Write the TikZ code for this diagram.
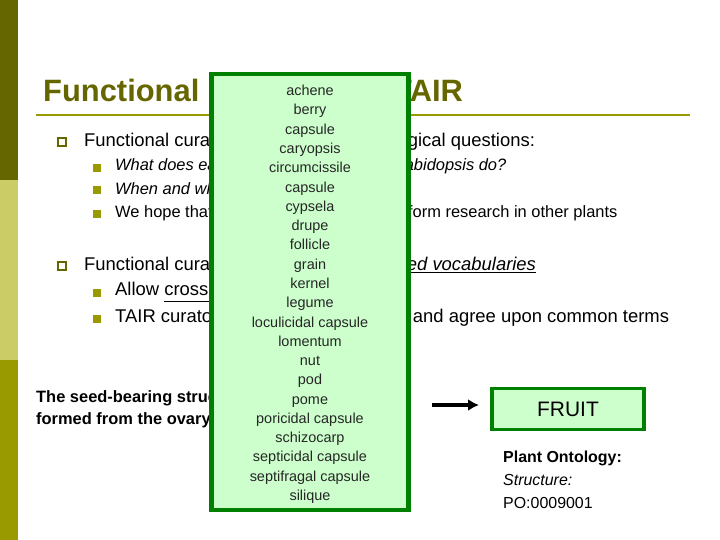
\documentclass[tikz,border=0pt]{standalone}
\usepackage{fontspec}
\setmainfont{Liberation Sans}
\usetikzlibrary{arrows.meta}
\definecolor{olivedark}{RGB}{102,102,0}
\definecolor{olivelight}{RGB}{204,204,102}
\definecolor{olivemid}{RGB}{153,153,0}
\definecolor{titlecol}{RGB}{102,102,0}
\definecolor{boxgreen}{RGB}{0,128,0}
\definecolor{boxfill}{RGB}{204,255,204}
\tikzset{
  lvlone/.style={anchor=west,inner sep=0pt,font=\fontsize{18.5}{18}\selectfont},
  lvltwo/.style={anchor=west,inner sep=0pt,font=\fontsize{16.5}{16}\selectfont},
  sqbul/.style={draw=olivedark,line width=1.2pt,minimum size=8pt,inner sep=0pt},
  fillbul/.style={fill=olivemid,minimum size=8pt,inner sep=0pt},
  greenbox/.style={draw=boxgreen,line width=5pt,fill=boxfill}
}
\begin{document}
\begin{tikzpicture}[x=1bp,y=-1bp]
\useasboundingbox (0,0) rectangle (720,540);
% side bar
\fill[olivedark] (0,0) rectangle (18,180);
\fill[olivelight] (0,180) rectangle (18,360);
\fill[olivemid] (0,360) rectangle (18,540);
% title
\node[anchor=west,inner sep=0pt,text=titlecol,font=\fontsize{31}{31}\bfseries\selectfont] (title) at (43,90) {Functional Curation for TAIR};
\draw[olivemid,line width=2.5pt] (36,115) -- (690,115);
% bullets
\node[sqbul] (b1) at (62,142) {};
\node[lvlone] (t1) at (84,142) {Functional curation answers these biological questions:};
\node[fillbul] (s1) at (97,168) {};
\node[lvltwo,font=\fontsize{16.5}{16}\itshape\selectfont] (u1) at (115,166) {What does each gene and product in Arabidopsis do?};
\node[fillbul] (s2) at (97,190) {};
\node[lvltwo,font=\fontsize{16.5}{16}\itshape\selectfont] (u2) at (115,189) {When and where does it act?};
\node[fillbul] (s3) at (97,214) {};
\node[lvltwo] (u3) at (115,213) {We hope that this information will also inform research in other plants};
\node[sqbul] (b2) at (62,266) {};
\node[lvlone] (t2) at (84,265) {Functional curation is done with \underline{\itshape controlled vocabularies}};
\node[fillbul] (s4) at (97,293) {};
\node[lvlone] (u4) at (115,292) {Allow \underline{cross-species comparisons}};
\node[fillbul] (s5) at (97,319) {};
\node[lvlone] (u5) at (115,318) {TAIR curators and other groups met and agree upon common terms};
% definition
\node[anchor=west,inner sep=0pt,align=left,font=\fontsize{16.5}{22}\bfseries\selectfont] (defn) at (36,409) {The seed-bearing structure of a plant,\\formed from the ovary after flowering};
% term list
\node[greenbox,minimum width=197bp,minimum height=436bp] (terms) at (310,292) {};
\node[anchor=north,align=center,inner sep=0pt,text=black!85,font=\fontsize{14.5}{19.35}\selectfont] (list) at (310,85)
  {achene\\berry\\capsule\\caryopsis\\circumcissile\\capsule\\cypsela\\drupe\\follicle\\grain\\kernel\\legume\\loculicidal capsule\\lomentum\\nut\\pod\\pome\\poricidal capsule\\schizocarp\\septicidal capsule\\septifragal capsule\\silique};
% fruit
\coordinate (arrs) at (432,405);
\coordinate (arre) at (479,405);
\node[greenbox,line width=4pt,minimum width=152bp,minimum height=41bp,font=\fontsize{21}{21}\selectfont] (fruit) at (568,409) {FRUIT};
\draw[-{Latex[length=11pt,width=12pt]},line width=3.5pt] (arrs) -- (arre);
\node[anchor=north west,inner sep=0pt,align=left,font=\fontsize{16}{23}\selectfont] (po) at (503,451) {\textbf{Plant Ontology:}\\\textit{Structure:}\\PO:0009001};
\end{tikzpicture}
\end{document}
